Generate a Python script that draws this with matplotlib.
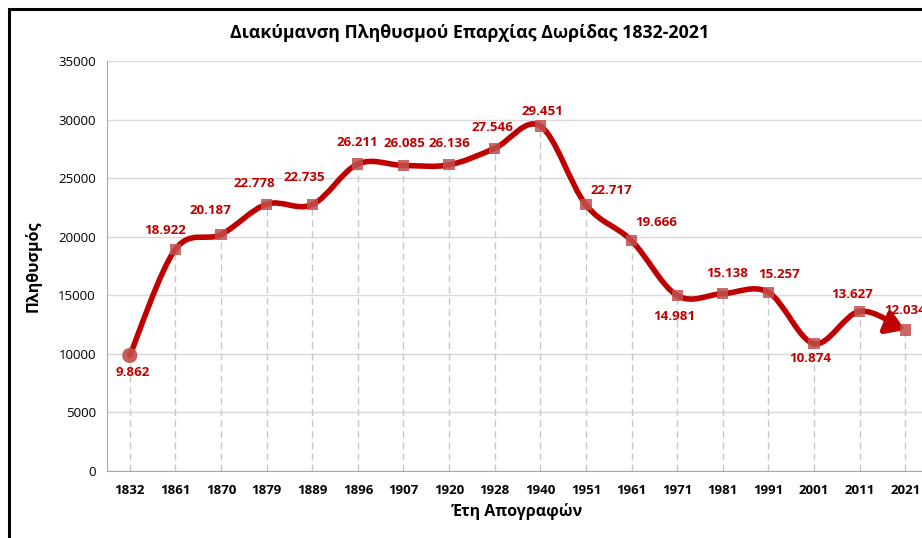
import matplotlib.pyplot as plt
from matplotlib.path import Path
from matplotlib.patches import PathPatch, Rectangle, FancyArrowPatch

plt.rcParams['font.family'] = ['Open Sans', 'DejaVu Sans']

years = ['1832', '1861', '1870', '1879', '1889', '1896', '1907', '1920', '1928',
         '1940', '1951', '1961', '1971', '1981', '1991', '2001', '2011', '2021']
population = [9862, 18922, 20187, 22778, 22735, 26211, 26085, 26136, 27546,
              29451, 22717, 19666, 14981, 15138, 15257, 10874, 13627, 12034]

# label offsets in pixels (dx, dy), like the excel chart placement
label_offsets = {
    '1832': (3, -17), '1861': (-10, 19), '1870': (-11, 24), '1879': (-12, 21),
    '1889': (-8, 27), '1896': (-1, 21), '1907': (1, 22), '1920': (0, 21),
    '1928': (-2, 21), '1940': (2, 15), '1951': (25, 14), '1961': (25, 18),
    '1971': (-3, -21), '1981': (4, 20), '1991': (11, 18), '2001': (-4, -15),
    '2011': (-7, 17), '2021': (0, 20),
}

dark_red = '#C00000'
marker_red = '#C0504D'

fig = plt.figure(figsize=(9.22, 5.38), dpi=100)
ax = fig.add_axes([107/922, 1 - 471/538, (928 - 107)/922, (471 - 61)/538])

x = list(range(len(years)))
y = population

# smoothed line like excel (catmull-rom -> bezier)
verts = [(x[0], y[0])]
codes = [Path.MOVETO]
n = len(x)
for i in range(n - 1):
    p0 = (x[max(i - 1, 0)], y[max(i - 1, 0)])
    p1 = (x[i], y[i])
    p2 = (x[i + 1], y[i + 1])
    p3 = (x[min(i + 2, n - 1)], y[min(i + 2, n - 1)])
    c1 = (p1[0] + (p2[0] - p0[0]) / 6, p1[1] + (p2[1] - p0[1]) / 6)
    c2 = (p2[0] - (p3[0] - p1[0]) / 6, p2[1] - (p3[1] - p1[1]) / 6)
    verts += [c1, c2, p2]
    codes += [Path.CURVE4] * 3
line_path = Path(verts[:-3], codes[:-3])
ax.add_patch(PathPatch(line_path, fill=False, edgecolor=dark_red, lw=4,
                       capstyle='round', joinstyle='round', zorder=3))
# last segment ends with an arrow head
last_seg = Path([verts[-4], verts[-3], verts[-2], verts[-1]],
                [Path.MOVETO, Path.CURVE4, Path.CURVE4, Path.CURVE4])
arrow = FancyArrowPatch(path=last_seg, arrowstyle='-|>,head_length=0.55,head_width=0.35',
                        color=dark_red, lw=4, mutation_scale=20, zorder=3,
                        shrinkA=0, shrinkB=0)
ax.add_patch(arrow)

# drop lines
ax.vlines(x, 0, y, colors='#C8C8C8', linestyles=(0, (5, 3)), lw=1, zorder=1)

# markers
ax.scatter(x[1:], y[1:], marker='s', s=65, color=marker_red, alpha=0.85,
           edgecolors='none', zorder=4)
ax.scatter(x[:1], y[:1], marker='o', s=120, color=marker_red, alpha=0.9,
           edgecolors='none', zorder=4)

for xi, yi, yr in zip(x, y, years):
    txt = f'{yi:,}'.replace(',', '.')
    dx, dy = label_offsets[yr]
    ax.annotate(txt, (xi, yi), xytext=(dx, dy), textcoords='offset pixels',
                ha='center', va='center', color=dark_red, fontsize=9.6,
                fontweight='bold', zorder=5, annotation_clip=False)

ax.set_xlim(-0.5, n - 0.5)
ax.set_ylim(0, 35000)
ax.set_yticks(range(0, 35001, 5000))
ax.set_xticks(x)
ax.set_xticklabels(years, fontweight='bold', fontsize=9.5)
ax.tick_params(axis='y', labelsize=9.5, length=0, pad=8)
ax.tick_params(axis='x', length=0, pad=9)
ax.grid(axis='y', color='#D9D9D9', lw=1, zorder=0)
for s in ['top', 'right']:
    ax.spines[s].set_visible(False)
ax.spines['left'].set_color('#A6A6A6')
ax.spines['bottom'].set_color('#A6A6A6')
ax.set_axisbelow(True)

ax.set_xlabel('Έτη Απογραφών', fontweight='bold', fontsize=11.5, labelpad=5)
ax.set_ylabel('Πληθυσμός', fontweight='bold', fontsize=11.5, labelpad=12)
fig.text(470/922, 1 - 33/538, 'Διακύμανση Πληθυσμού Επαρχίας Δωρίδας 1832-2021',
         ha='center', va='center', fontweight='bold', fontsize=12.8)

# outer chart border (partly cut off)
fig.patches.append(Rectangle((9/922, -0.05), 1.1, 1 - 9/538 + 0.05,
                             transform=fig.transFigure, fill=False,
                             edgecolor='black', lw=2.2))

fig.savefig('out.png', dpi=100)
